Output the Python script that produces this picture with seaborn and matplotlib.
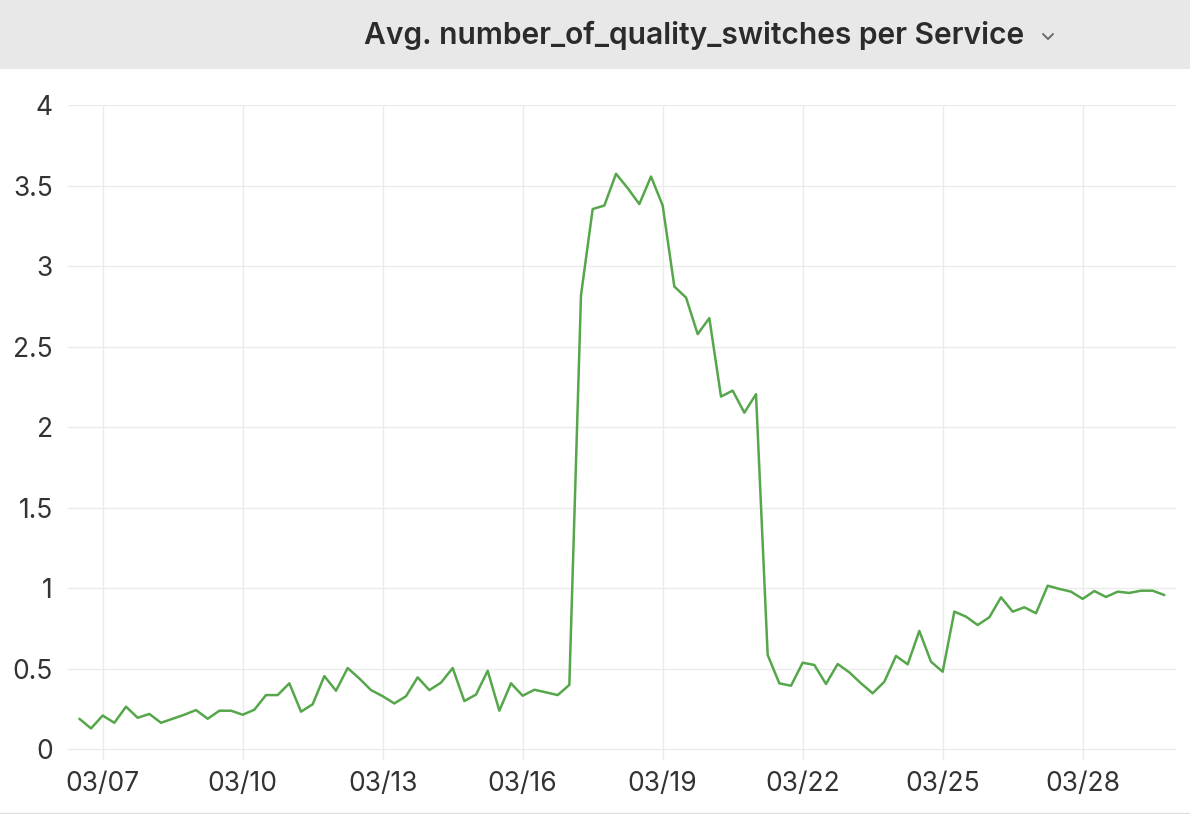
import pandas as pd
import seaborn as sns
import matplotlib.pyplot as plt
import matplotlib.dates as mdates
from matplotlib.lines import Line2D
from matplotlib.patches import Rectangle

# Data: average number of quality switches, one point every 6 hours
start = '2024-03-06 12:00'
values = [
    0.19, 0.13,
    0.21, 0.165, 0.265, 0.196,   # 03/07
    0.22, 0.165, 0.19, 0.215,    # 03/08
    0.244, 0.19, 0.24, 0.24,     # 03/09
    0.215, 0.246, 0.337, 0.337,  # 03/10
    0.41, 0.234, 0.28, 0.455,    # 03/11
    0.364, 0.505, 0.44, 0.368,   # 03/12
    0.33, 0.285, 0.33, 0.447,    # 03/13
    0.368, 0.414, 0.505, 0.30,   # 03/14
    0.34, 0.488, 0.24, 0.41,     # 03/15
    0.333, 0.37, 0.354, 0.337,   # 03/16
    0.40, 2.82, 3.354, 3.376,    # 03/17
    3.573, 3.484, 3.385, 3.556,  # 03/18
    3.376, 2.873, 2.805, 2.578,  # 03/19
    2.677, 2.19, 2.227, 2.09,    # 03/20
    2.205, 0.586, 0.41, 0.395,   # 03/21
    0.538, 0.524, 0.406, 0.53,   # 03/22
    0.478, 0.41, 0.348, 0.42,    # 03/23
    0.58, 0.528, 0.735, 0.544,   # 03/24
    0.482, 0.855, 0.824, 0.772,  # 03/25
    0.82, 0.944, 0.855, 0.882,   # 03/26
    0.845, 1.016, 0.996, 0.979,  # 03/27
    0.934, 0.983, 0.946, 0.979,  # 03/28
    0.971, 0.985, 0.985, 0.958,  # 03/29
]
times = pd.date_range(start, periods=len(values), freq='6h')
df = pd.DataFrame({'time': times, 'switches': values})

tick_days = [7, 10, 13, 16, 19, 22, 25, 28]
y_ticks = [0, 0.5, 1, 1.5, 2, 2.5, 3, 3.5, 4]
y_labels = ['0', '0.5', '1', '1.5', '2', '2.5', '3', '3.5', '4']
title = 'Avg. number_of_quality_switches per Service'

sns.set_style('white')
plt.rcParams['font.family'] = ['Inter', 'DejaVu Sans']

fig = plt.figure(figsize=(11.9, 8.14), dpi=100)
W, H = 1190, 814

# header band
fig.patches.append(Rectangle((0, 1 - 68.5 / H), 1, 68.5 / H, transform=fig.transFigure,
                             facecolor='#e8e8e8', edgecolor='none', zorder=0))
fig.text(364 / W, 1 - 35 / H, title, fontsize=21.6, fontweight='semibold',
         color='#2b2b2b', ha='left', va='center')
# small chevron next to title
cx, cy = 1048, 37
fig.add_artist(Line2D([(cx - 5) / W, cx / W, (cx + 5) / W],
                      [1 - (cy - 3) / H, 1 - (cy + 2) / H, 1 - (cy - 3) / H],
                      transform=fig.transFigure, color='#6b6b6b', lw=1.4))
# bottom border
fig.add_artist(Line2D([0, 1], [1 - 812.5 / H] * 2, transform=fig.transFigure,
                      color='#dddddd', lw=1))

ax = fig.add_axes([68 / W, 1 - 760 / H, (1176 - 68) / W, (760 - 105) / H])
sns.lineplot(data=df, x='time', y='switches', ax=ax, color='#56a64b', linewidth=1.8)

ax.set_ylim(-0.066, 4.0)
ax.set_xlim(pd.Timestamp('2024-03-06 06:10'), pd.Timestamp('2024-03-30 00:00'))
ax.set_yticks(y_ticks)
ax.set_yticklabels(y_labels)
ax.xaxis.set_major_locator(mdates.DayLocator(bymonthday=tick_days))
ax.xaxis.set_major_formatter(mdates.DateFormatter('%m/%d'))

ax.grid(True, color='#ebebeb', linewidth=1)
ax.set_axisbelow(True)
for s in ax.spines.values():
    s.set_visible(False)
ax.tick_params(axis='both', length=0, labelsize=19, labelcolor='#333333')
ax.tick_params(axis='y', pad=11)
ax.tick_params(axis='x', pad=8)
ax.set_xlabel('')
ax.set_ylabel('')

fig.savefig('out.png', dpi=100)
